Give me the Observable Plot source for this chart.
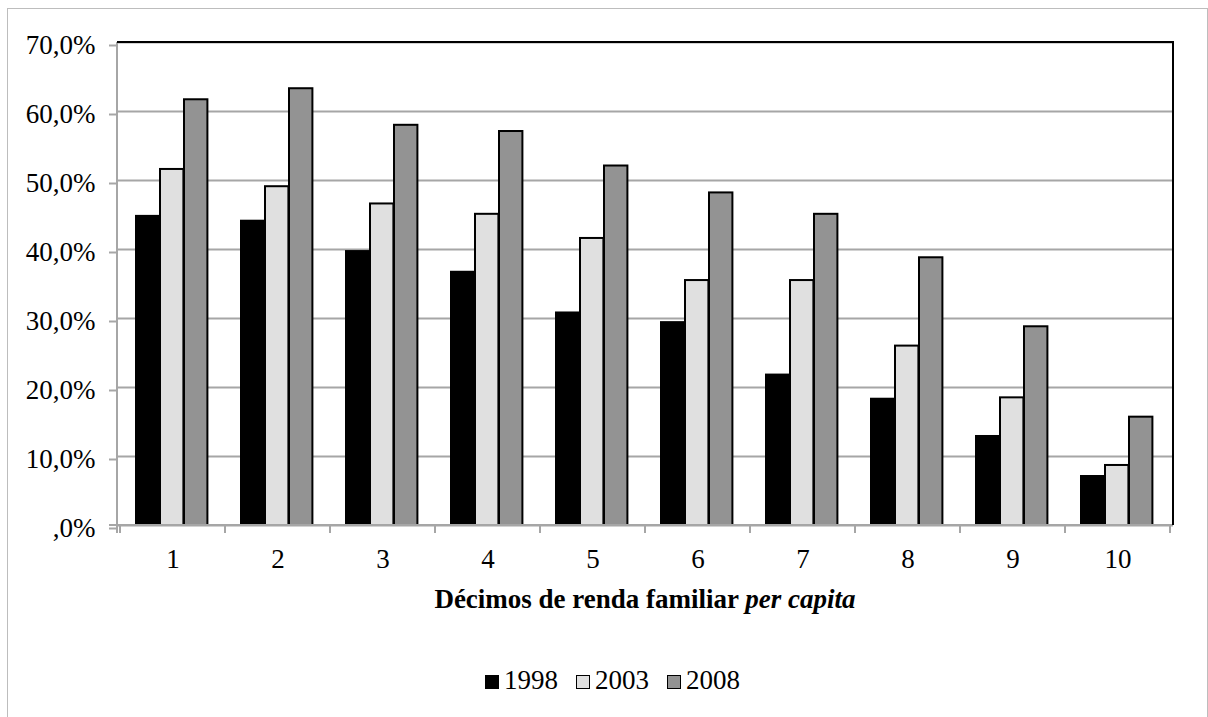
<!DOCTYPE html>
<html>
<head>
<meta charset="utf-8">
<script src="https://cdn.jsdelivr.net/npm/d3@7"></script>
<script src="https://cdn.jsdelivr.net/npm/@observablehq/plot@0.6"></script>
<style>
  body { margin: 0; background: #fff; }
  #wrap { position: relative; width: 1208px; height: 717px; overflow: hidden; font-family: "Liberation Serif", "Times New Roman", serif; color: #000; background: #fff; }
  #frame { position: absolute; left: 7px; top: 8px; width: 1201px; height: 740px; border: 1px solid #bdbdbd; box-sizing: border-box; }
  #chart { position: absolute; left: 0; top: 0; }
  #xtitle { position: absolute; left: 117px; width: 1056px; top: 586px; text-align: center; font-size: 27px; line-height: 27px; font-weight: bold; white-space: nowrap; }
  #legend { position: absolute; left: 485px; top: 667px; display: flex; font-size: 27px; line-height: 27px; white-space: nowrap; }
  .item { display: flex; align-items: center; margin-right: 18px; }
  .sw { width: 14px; height: 14px; border: 1px solid #000; box-sizing: border-box; margin-right: 5px; margin-top: 2px; }
</style>
</head>
<body>
<div id="wrap">
  <div id="frame"></div>
  <div id="chart"></div>
  <div id="xtitle">Décimos de renda familiar <i>per capita</i></div>
  <div id="legend"></div>
</div>
<script>
const deciles = ["1", "2", "3", "4", "5", "6", "7", "8", "9", "10"];
const years = ["1998", "2003", "2008"];
const v1998 = [44.8, 44.1, 39.7, 36.7, 30.8, 29.4, 21.8, 18.3, 12.9, 7.1];
const v2003 = [51.6, 49.1, 46.6, 45.1, 41.6, 35.5, 35.5, 26.0, 18.5, 8.7];
const v2008 = [61.7, 63.3, 58.0, 57.1, 52.1, 48.2, 45.1, 38.8, 28.8, 15.7];
const yTicks = [0, 10, 20, 30, 40, 50, 60, 70];
const colors = ["#000000", "#e0e0e0", "#939393"];

const series = [v1998, v2003, v2008];
const rows = [];
series.forEach((vals, i) => vals.forEach((v, j) => rows.push({decile: deciles[j], year: years[i], value: v})));

const W = 1208, H = 580, ML = 117, MR = 35, MT = 42, MB = 55;
const band = (W - ML - MR) / deciles.length;
const groupOffset = 16, barW = 24;

const fmt = d => d === 0 ? ",0%" : d.toFixed(1).replace(".", ",") + "%";

function frameLines(index, scales, values, dims) {
  const x0 = dims.marginLeft, x1 = dims.width - dims.marginRight;
  const y0 = dims.marginTop, y1 = dims.height - dims.marginBottom;
  const g = d3.create("svg:g");
  const bw = scales.x && scales.x.bandwidth ? scales.x.bandwidth() : (x1 - x0) / deciles.length;
  const bounds = deciles.map(d => scales.x(d));
  bounds.push(scales.x(deciles[deciles.length - 1]) + bw);
  bounds.forEach(b => g.append("line").attr("x1", b).attr("x2", b).attr("y1", y1).attr("y2", y1 + 8).attr("stroke", "#a6a6a6").attr("stroke-width", 2));
  g.append("line").attr("x1", x0 - 8).attr("x2", x1).attr("y1", y1).attr("y2", y1).attr("stroke", "#a6a6a6").attr("stroke-width", 2);
  g.append("line").attr("x1", x0).attr("x2", x0).attr("y1", y0).attr("y2", y1 + 8).attr("stroke", "#a6a6a6").attr("stroke-width", 2);
  g.append("line").attr("x1", x0).attr("x2", x1 + 1).attr("y1", y0).attr("y2", y0).attr("stroke", "#000").attr("stroke-width", 2);
  g.append("line").attr("x1", x1).attr("x2", x1).attr("y1", y0).attr("y2", y1).attr("stroke", "#000").attr("stroke-width", 2);
  return g.node();
}

const bars = years.map((yr, i) => Plot.barY(rows.filter(r => r.year === yr), {
  x: "decile", y: "value", fill: colors[i], stroke: "#000", strokeWidth: 2,
  insetLeft: groupOffset + barW * i,
  insetRight: band - groupOffset - barW * (i + 1)
}));

const chart = Plot.plot({
  width: W, height: H,
  marginLeft: ML, marginRight: MR, marginTop: MT, marginBottom: MB,
  style: {fontFamily: "Liberation Serif, Times New Roman, serif", fontSize: "27px", color: "#000", background: "transparent", overflow: "visible"},
  x: {domain: deciles, padding: 0, label: null},
  y: {domain: [0, 70], label: null},
  marks: [
    Plot.ruleY(yTicks, {stroke: "#a6a6a6", strokeWidth: 2}),
    ...bars,
    frameLines,
    Plot.axisY({ticks: yTicks, tickFormat: fmt, tickSize: 8, tickPadding: 14, stroke: "#a6a6a6", strokeWidth: 2, fill: "#000", label: null, dy: 3}),
    Plot.axisX({tickSize: 0, tickPadding: 23, fill: "#000", label: null})
  ]
});
document.getElementById("chart").appendChild(chart);

const leg = d3.select("#legend");
years.forEach((yr, i) => {
  const it = leg.append("div").attr("class", "item");
  it.append("div").attr("class", "sw").style("background", colors[i]);
  it.append("span").text(yr);
});
</script>
</body>
</html>
